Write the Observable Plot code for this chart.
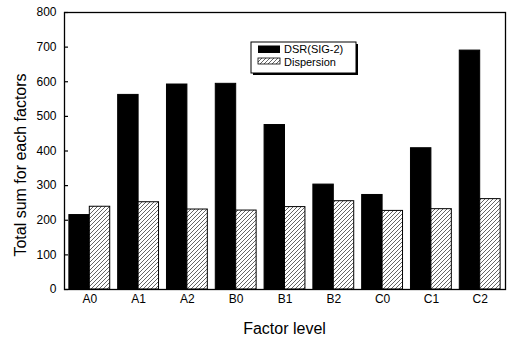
<!DOCTYPE html>
<html><head><meta charset="utf-8">
<script src="https://cdn.jsdelivr.net/npm/d3@7"></script>
<script src="https://cdn.jsdelivr.net/npm/@observablehq/plot@0.6"></script>
<style>body{margin:0;background:#fff} #chart{width:509px;height:343px}</style>
</head><body><div id="chart"></div>
<script>
const factors = ["A0","A1","A2","B0","B1","B2","C0","C1","C2"];
const dsr = [215, 562, 592, 594, 475, 303, 273, 408, 690];
const dispersion = [239, 252, 231, 228, 238, 255, 227, 232, 261];
const seriesNames = ["DSR(SIG-2)", "Dispersion"];
const yTicks = [0,100,200,300,400,500,600,700,800];
const xTitle = "Factor level";
const yTitle = "Total sum for each factors";

const rows = factors.map((f,i)=>({factor:f, dsr:dsr[i], dispersion:dispersion[i]}));
const W=509, H=343, mL=64, mR=4, mT=12, mB=54;
const pi=0.163, po=0.1;
const step=(W-mL-mR)/(factors.length-pi+2*po);
const half=step*(1-pi)/2;
const font="'Liberation Sans', Arial, Helvetica, sans-serif";

const plot = Plot.plot({
  width:W, height:H, marginLeft:mL, marginRight:mR, marginTop:mT, marginBottom:mB,
  style:{fontFamily:font, fontSize:"12px", color:"black", background:"white"},
  x:{domain:factors, paddingInner:pi, paddingOuter:po, round:false, label:null},
  y:{domain:[0,800], label:null},
  marks:[
    Plot.barY(rows,{x:"factor", y:"dsr", fill:"black", stroke:"black", strokeWidth:1, insetRight:half}),
    Plot.barY(rows,{x:"factor", y:"dispersion", fill:"url(#hatch)", stroke:"black", strokeWidth:1, insetLeft:half}),
    Plot.frame({stroke:"black", strokeWidth:1.3}),
    Plot.axisY({ticks:yTicks, tickSize:0, tickPadding:8, fontSize:12, label:null}),
    Plot.axisY({ticks:yTicks, tickSize:4, dx:4, text:null, label:null, strokeWidth:1.2}),
    Plot.axisX({tickSize:0, tickPadding:5, fontSize:12, label:null})
  ]
});
document.getElementById("chart").appendChild(plot);

const svg = d3.select(plot);
const defs = svg.insert("defs", ":first-child");
const pat = defs.append("pattern").attr("id","hatch").attr("patternUnits","userSpaceOnUse")
  .attr("width",4).attr("height",4);
pat.append("rect").attr("width",4).attr("height",4).attr("fill","white");
pat.append("path").attr("d","M-1,1 L1,-1 M0,4 L4,0 M3,5 L5,3").attr("stroke","#222").attr("stroke-width",0.7);

// axis titles
svg.append("text").attr("x",(mL+W-mR)/2).attr("y",334).attr("text-anchor","middle")
  .attr("font-family",font).attr("font-size",16).attr("fill","black").text(xTitle);
svg.append("text").attr("transform","translate(26,165) rotate(-90)").attr("text-anchor","middle")
  .attr("font-family",font).attr("font-size",16).attr("fill","black").text(yTitle);

// legend
const lg = svg.append("g").attr("text-anchor","start");
lg.append("rect").attr("x",253).attr("y",44).attr("width",105).attr("height",31).attr("fill","black");
lg.append("rect").attr("x",251).attr("y",42).attr("width",105).attr("height",31).attr("fill","white").attr("stroke","black").attr("stroke-width",1);
lg.append("rect").attr("x",258).attr("y",45.5).attr("width",22).attr("height",7.5).attr("fill","black");
lg.append("rect").attr("x",258).attr("y",58).attr("width",22).attr("height",6).attr("fill","url(#hatch)").attr("stroke","black").attr("stroke-width",0.8);
seriesNames.forEach((n,i)=>{
  lg.append("text").attr("x",284).attr("y",53+i*12.5).attr("text-anchor","start").attr("font-family",font).attr("font-size",11).attr("fill","black").text(n);
});
</script></body></html>
